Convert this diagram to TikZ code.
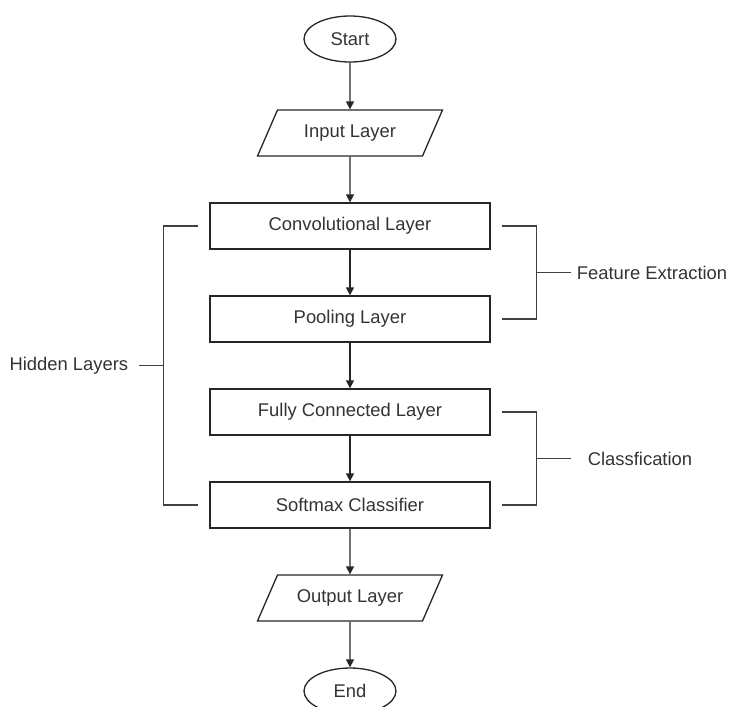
\documentclass[tikz,border=0pt]{standalone}
\usepackage{fontspec}
\setmainfont{Liberation Sans}
\usetikzlibrary{positioning, arrows.meta, shapes.geometric, calc}

\begin{document}
\begin{tikzpicture}[
        font=\fontsize{18.4}{22}\selectfont,
        terminal/.style={
            ellipse,
            draw=black!85,
            line width=1.3pt,
            minimum width=92pt,
            minimum height=46pt,
            inner sep=0pt,
            text=black!80
        },
        io/.style={
            trapezium,
            trapezium left angle=66.5,
            trapezium right angle=113.5,
            trapezium stretches body,
            draw=black!85,
            line width=1.3pt,
            text height=13pt,
            text depth=4pt,
            inner ysep=14.5pt,
            inner xsep=0pt,
            minimum width=185pt,
            text=black!80
        },
        layer/.style={
            rectangle,
            draw=black!85,
            line width=1.3pt,
            minimum width=280pt,
            minimum height=46pt,
            inner sep=0pt,
            text=black!80
        },
        arrow/.style={
            -{Triangle[width=8pt,length=8pt]},
            line width=1.3pt,
            draw=black!85
        },
        bracket/.style={
            line width=1.3pt,
            draw=black!75
        },
        tag/.style={
            inner sep=0pt,
            text=black!80
        }
    ]

    \useasboundingbox (0,0) rectangle (729pt,-707pt);

    % Flow nodes
    \node[terminal] (start) at (350pt,-39pt) {Start};
    \node[io, below=46.7pt of start] (input) {Input Layer};
    \node[layer, below=45.7pt of input] (conv) {Convolutional Layer};
    \node[layer, below=45.7pt of conv] (pool) {Pooling Layer};
    \node[layer, below=45.7pt of pool] (fc) {Fully Connected Layer};
    \node[layer, below=45.7pt of fc] (soft) {Softmax Classifier};
    \node[io, below=45.7pt of soft] (output) {Output Layer};
    \node[terminal, below=45.7pt of output] (end) {End};

    % Flow arrows
    \draw[arrow] (start) -- (input);
    \draw[arrow] (input) -- (conv);
    \draw[arrow] (conv) -- (pool);
    \draw[arrow] (pool) -- (fc);
    \draw[arrow] (fc) -- (soft);
    \draw[arrow] (soft) -- (output);
    \draw[arrow] (output) -- (end);

    % Feature extraction bracket
    \coordinate (fe-a) at ([xshift=11pt]conv.east);
    \coordinate (fe-b) at ([xshift=11pt]pool.east);
    \coordinate (fe-m) at ([xshift=46pt]$(conv.east)!0.5!(pool.east)$);
    \coordinate (fe-t) at ([xshift=34pt]fe-m);
    \node[tag, right=40pt of fe-m, anchor=west] (feat) {Feature Extraction};
    \draw[bracket] (fe-a) -| (fe-m) |- (fe-b);
    \draw[bracket] (fe-m) -- (fe-t);

    % Classification bracket
    \coordinate (cl-a) at ([xshift=11pt]fc.east);
    \coordinate (cl-b) at ([xshift=11pt]soft.east);
    \coordinate (cl-m) at ([xshift=46pt]$(fc.east)!0.5!(soft.east)$);
    \coordinate (cl-t) at ([xshift=34pt]cl-m);
    \node[tag, right=51pt of cl-m, anchor=west] (clas) {Classfication};
    \draw[bracket] (cl-a) -| (cl-m) |- (cl-b);
    \draw[bracket] (cl-m) -- (cl-t);

    % Hidden layers bracket
    \coordinate (hl-a) at ([xshift=-11pt]conv.west);
    \coordinate (hl-b) at ([xshift=-11pt]soft.west);
    \coordinate (hl-m) at ([xshift=-46pt]$(conv.west)!0.5!(soft.west)$);
    \coordinate (hl-t) at ([xshift=-24pt]hl-m);
    \node[tag, left=35pt of hl-m, anchor=east] (hidden) {Hidden Layers};
    \draw[bracket] (hl-a) -| (hl-m) |- (hl-b);
    \draw[bracket] (hl-m) -- (hl-t);

\end{tikzpicture}
\end{document}
